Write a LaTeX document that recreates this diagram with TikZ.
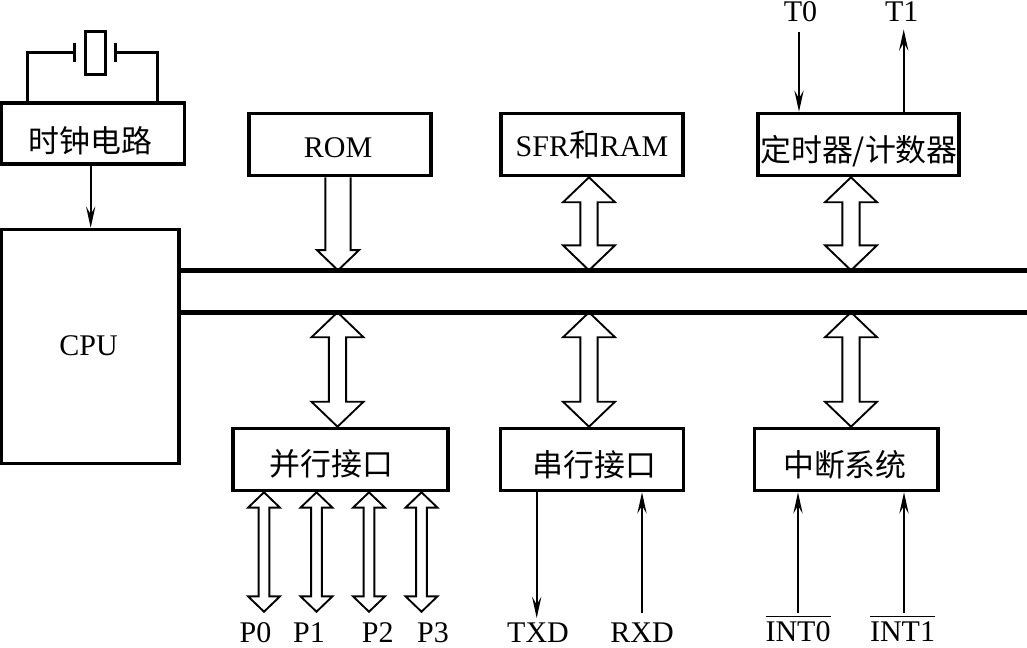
\documentclass[tikz,border=0pt]{standalone}
\usepackage{fontspec}
\setmainfont{Liberation Serif}
\newfontfamily\cjk[Scale=1.03]{Noto Sans CJK SC}
\usetikzlibrary{arrows.meta, calc}
% text set off the middle of its box: x shift (twice), baseline drop
\newcommand{\boxtext}[3]{\makebox[0pt]{\hspace*{#1pt}\raisebox{-#2pt}[0pt][0pt]{#3}}}

\begin{document}
\begin{tikzpicture}[
  x=0.75pt, y=-0.75pt,
  font=\fontsize{22.5}{24}\selectfont,
  unitbox/.style={draw, line width=2.7pt, inner sep=0pt},
  label/.style={inner sep=0pt},
  wire/.style={line width=2.1pt},
  signal/.style={line width=1.3pt, -{Stealth[length=16pt, width=7pt, inset=6pt]}},
  busline/.style={line width=3.6pt},
  hollow/.style={line width=1.4pt, fill=white, line join=miter},
  % wide arrow with a head at both ends
  busboth/.style={hollow, to path={
    let \p1=(\tikztostart), \p2=(\tikztotarget) in
    (\x1,\y1) -- (\x1-#1*0.75pt,\y1-#1*0.72pt) -- (\x1-#1*0.25pt,\y1-#1*0.72pt)
    -- (\x1-#1*0.25pt,\y2+#1*0.72pt) -- (\x1-#1*0.75pt,\y2+#1*0.72pt) -- (\x1,\y2)
    -- (\x1+#1*0.75pt,\y2+#1*0.72pt) -- (\x1+#1*0.25pt,\y2+#1*0.72pt)
    -- (\x1+#1*0.25pt,\y1-#1*0.72pt) -- (\x1+#1*0.75pt,\y1-#1*0.72pt) -- cycle}},
  % wide arrow with a head at the lower end only
  busdown/.style={hollow, to path={
    let \p1=(\tikztostart), \p2=(\tikztotarget) in
    (\x1-#1*0.45pt,\y1) -- (\x1-#1*0.45pt,\y2+#1*0.72pt) -- (\x1-#1*0.75pt,\y2+#1*0.72pt) -- (\x1,\y2)
    -- (\x1+#1*0.75pt,\y2+#1*0.72pt) -- (\x1+#1*0.45pt,\y2+#1*0.72pt) -- (\x1+#1*0.45pt,\y1)}},
]
\useasboundingbox (0,0) rectangle (1027,647);

\node[unitbox, minimum width=137.5pt, minimum height=46pt] (clock) at (93,133.5) {\boxtext{-4}{14.2}{\cjk 时钟电路}};
\node[unitbox, minimum width=133.5pt, minimum height=175.5pt] (cpu) at (90,346.5) {\boxtext{-2}{7}{CPU}};
\node[unitbox, minimum width=136.5pt, minimum height=46.5pt] (rom) at (340,144.5) {\boxtext{-3}{10.1}{ROM}};
\node[unitbox, minimum width=136.5pt, minimum height=46.5pt] (sfr) at (592,144.5) {\boxtext{0}{9.1}{SFR{\cjk 和}RAM}};
\node[unitbox, minimum width=150.8pt, minimum height=46.5pt] (timer) at (858.3,144.5) {\boxtext{1}{12.4}{\cjk 定时器/计数器}};
\node[unitbox, minimum width=161.6pt, minimum height=46.5pt] (parallel) at (340.5,459.5) {\boxtext{-14}{12}{\cjk 并行接口}};
\node[unitbox, minimum width=137pt, minimum height=46.5pt] (serial) at (592,459.5) {\boxtext{3.6}{13}{\cjk 串行接口}};
\node[unitbox, minimum width=137.8pt, minimum height=46.5pt] (intsys) at (846.3,459.5) {\boxtext{-2}{13}{\cjk 中断系统}};

% crystal
\node[draw, line width=2.1pt, minimum width=15pt, minimum height=32pt, inner sep=0pt] (xtal) at (95.5,53) {};
\coordinate (platel) at (74.3,52.3);
\coordinate (plater) at (115.3,52.3);
\draw[wire] (74.3,42.7) -- (platel) -- (74.3,62.3);
\draw[wire] (115.3,42.7) -- (plater) -- (115.3,62.3);
\draw[wire] (platel) -| (clock.north -| 27.3,0);
\draw[wire] (plater) -| (clock.north -| 157.3,0);

\draw[signal] (clock.south -| 90.7,0) -- (cpu.north -| 90.7,0);

% buses
\coordinate (busa) at (cpu.east |- 0,270.3);
\coordinate (busb) at (cpu.east |- 0,312.3);
\coordinate (busaend) at (1027,270.3);
\coordinate (busbend) at (1027,312.3);

% upper row
\draw[busdown=21] (rom.south -| 338,0) to (338,0 |- busa);
\draw[busboth=26] (sfr.south -| 589,0) to (589,0 |- busa);
\draw[busboth=26] (timer.south -| 851,0) to (851,0 |- busa);
% lower row
\draw[busboth=26] (337.5,0 |- busb) to (parallel.north -| 337.5,0);
\draw[busboth=26] (589,0 |- busb) to (serial.north -| 589,0);
\draw[busboth=26] (851,0 |- busb) to (intsys.north -| 851,0);
% ports
\draw[busboth=16] (parallel.south -| 264,0) to (264,611.7);
\draw[busboth=16] (parallel.south -| 316.5,0) to (316.5,611.7);
\draw[busboth=16] (parallel.south -| 369,0) to (369,611.7);
\draw[busboth=16] (parallel.south -| 421.5,0) to (421.5,611.7);

\draw[busline] (busa) -- (busaend);
\draw[busline] (busb) -- (busbend);

\node[label] (p0) at (255.5,632.5) {P0};
\node[label] (p1) at (309,632.5) {P1};
\node[label] (p2) at (377.8,632.5) {P2};
\node[label] (p3) at (433,632.5) {P3};
\node[label] (txd) at (538,632.5) {TXD};
\node[label] (rxd) at (642,632.5) {RXD};
\node[label, anchor=base] (int0) at (798,641.5) {$\overline{\mbox{\rule{0pt}{17.8pt}INT0}}$};
\node[label, anchor=base] (int1) at (902.5,641.5) {$\overline{\mbox{\rule{0pt}{17.8pt}INT1}}$};
\node[label] (t0) at (800.5,12) {T0};
\node[label] (t1) at (901.7,12) {T1};

\coordinate (t0end) at (799,32);
\coordinate (t1end) at (903.7,29.5);
\coordinate (txdend) at (536.7,618);
\coordinate (rxdend) at (642,613);
\coordinate (int0end) at (798,613);
\coordinate (int1end) at (904,613);
\draw[signal] (t0end) -- (timer.north -| t0end);
\draw[signal] (timer.north -| t1end) -- (t1end);
\draw[signal] (serial.south -| txdend) -- (txdend);
\draw[signal] (rxdend) -- (serial.south -| rxdend);
\draw[signal] (int0end) -- (intsys.south -| int0end);
\draw[signal] (int1end) -- (intsys.south -| int1end);
\end{tikzpicture}
\end{document}
